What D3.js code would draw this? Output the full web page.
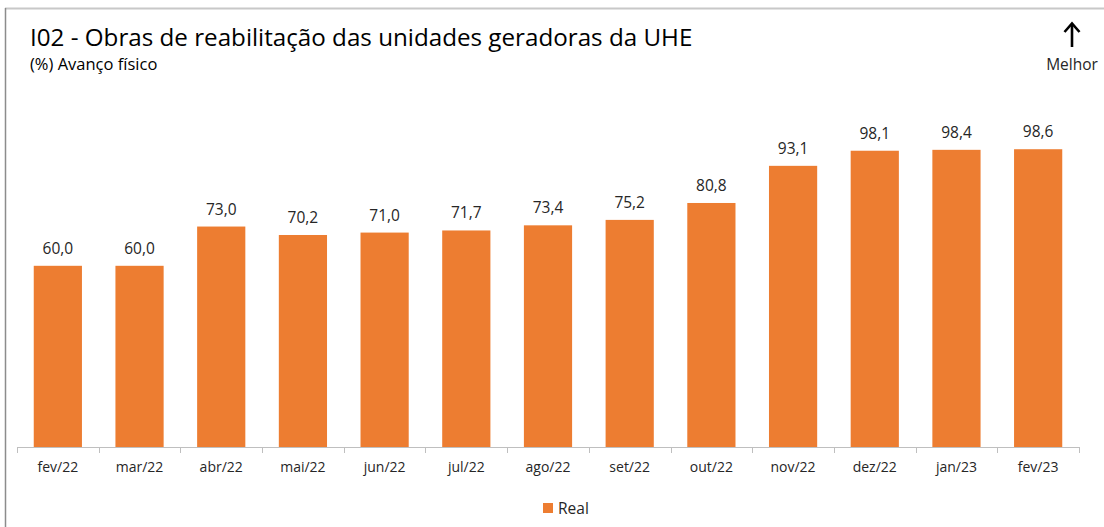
<!DOCTYPE html>
<html>
<head>
<meta charset="utf-8">
<script src="https://cdn.jsdelivr.net/npm/d3@7"></script>
<style>
  html, body { margin: 0; padding: 0; background: #fff; }
  svg { display: block; font-family: "Segoe UI", "Open Sans", "Noto Sans", sans-serif; }
</style>
</head>
<body>
<svg id="chart" width="1104" height="527"></svg>
<script>
// Monthly physical progress (%) of the generating units rehabilitation works
const months = ["fev/22", "mar/22", "abr/22", "mai/22", "jun/22", "jul/22", "ago/22",
                "set/22", "out/22", "nov/22", "dez/22", "jan/23", "fev/23"];
const realValues = [60.0, 60.0, 73.0, 70.2, 71.0, 71.7, 73.4, 75.2, 80.8, 93.1, 98.1, 98.4, 98.6];
const yDomain = [0, 100];

const svg = d3.select("#chart");
const W = 1104, H = 527;
const plot = { left: 17, right: 1079, top: 145, bottom: 447 };

// Frame
svg.append("line").attr("x1", 5).attr("x2", W).attr("y1", 8.5).attr("y2", 8.5)
  .attr("stroke", "#c8c8c8").attr("stroke-width", 2);
svg.append("line").attr("x1", 5.5).attr("x2", 5.5).attr("y1", 8).attr("y2", H)
  .attr("stroke", "#8c8c8c").attr("stroke-width", 1.5);

// Titles
svg.append("text").attr("x", 30).attr("y", 46)
  .attr("font-size", 24.2).attr("fill", "#000")
  .text("I02 - Obras de reabilitação das unidades geradoras da UHE");
svg.append("text").attr("x", 30).attr("y", 70)
  .attr("font-size", 16.5).attr("fill", "#000")
  .text("(%) Avanço físico");

// "Better" direction indicator: upward arrow
const arrow = svg.append("g").attr("stroke", "#000").attr("fill", "none")
  .attr("stroke-width", 2.6).attr("stroke-linecap", "butt");
arrow.append("line").attr("x1", 1072).attr("x2", 1072).attr("y1", 24).attr("y2", 47);
arrow.append("path").attr("d", "M1064.5,32 L1072,23.5 L1079.5,32").attr("stroke-linejoin", "miter");
svg.append("text").attr("x", 1072).attr("y", 70).attr("text-anchor", "middle")
  .attr("font-size", 15.5).attr("fill", "#262626")
  .text("Melhor");

const x = d3.scaleBand().domain(months).range([plot.left, plot.right])
  .paddingInner(0.41).paddingOuter(0.205);
const y = d3.scaleLinear().domain(yDomain).range([plot.bottom, plot.top]);

const bars = months.map((m, i) => ({ m, v: realValues[i] }));

svg.append("g").selectAll("rect").data(bars).join("rect")
  .attr("x", d => x(d.m)).attr("width", x.bandwidth())
  .attr("y", d => y(d.v)).attr("height", d => y(0) - y(d.v))
  .attr("fill", "#ED7D31");

svg.append("g").selectAll("text").data(bars).join("text")
  .attr("x", d => x(d.m) + x.bandwidth() / 2)
  .attr("y", d => y(d.v) - 12)
  .attr("text-anchor", "middle").attr("font-size", 15.5).attr("fill", "#262626")
  .text(d => d3.format(".1f")(d.v).replace(".", ","));

// Category axis with boundary ticks
const axisG = svg.append("g");
axisG.append("line").attr("x1", plot.left).attr("x2", plot.right)
  .attr("y1", plot.bottom + 0.5).attr("y2", plot.bottom + 0.5)
  .attr("stroke", "#bfbfbf").attr("stroke-width", 1);
const step = x.step();
const boundaries = d3.range(months.length + 1).map(i => plot.left + i * step);
axisG.selectAll("line.tick").data(boundaries).join("line").attr("class", "tick")
  .attr("x1", d => Math.round(d) + 0.5).attr("x2", d => Math.round(d) + 0.5)
  .attr("y1", plot.bottom).attr("y2", plot.bottom + 6)
  .attr("stroke", "#bfbfbf");
axisG.selectAll("text").data(months).join("text")
  .attr("x", d => x(d) + x.bandwidth() / 2).attr("y", plot.bottom + 25)
  .attr("text-anchor", "middle").attr("font-size", 14).attr("fill", "#262626")
  .text(d => d);

// Legend
const lg = svg.append("g").attr("transform", "translate(543,503)");
lg.append("rect").attr("width", 10).attr("height", 10).attr("fill", "#ED7D31");
lg.append("text").attr("x", 15).attr("y", 10.5).attr("font-size", 15.5).attr("fill", "#262626").text("Real");
</script>
</body>
</html>
